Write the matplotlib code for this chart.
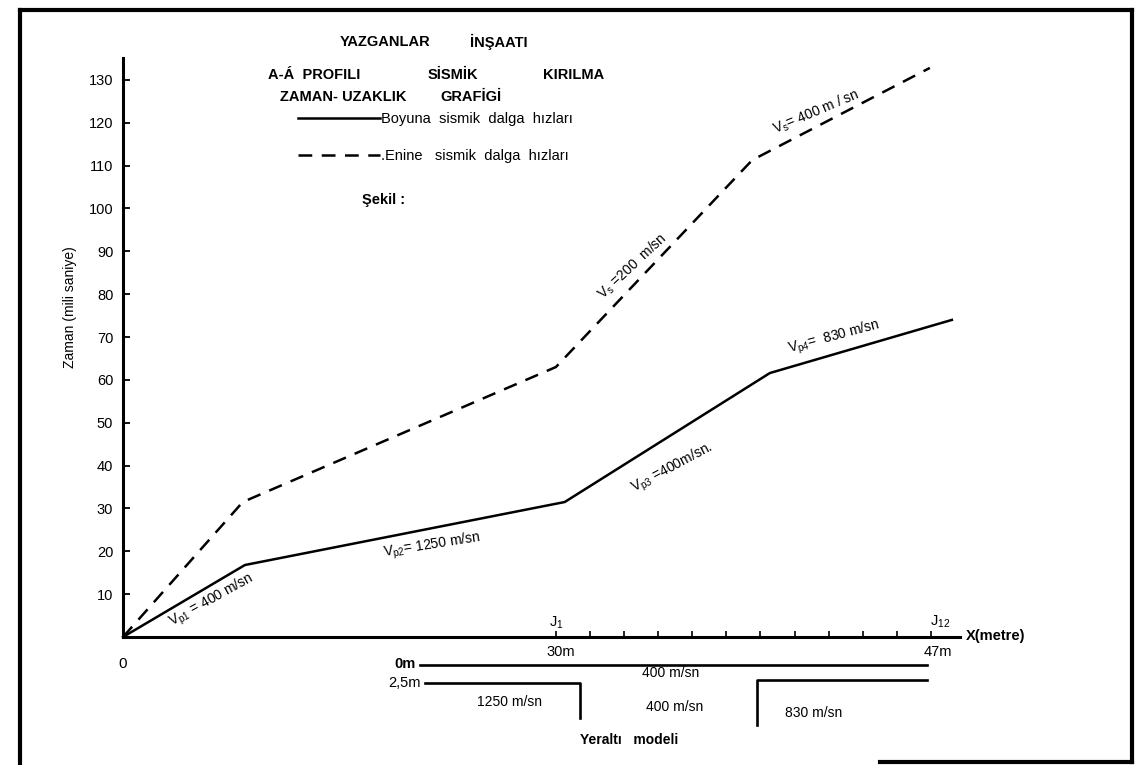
import numpy as np
import matplotlib
matplotlib.use("Agg")
import matplotlib.pyplot as plt
from matplotlib.lines import Line2D

plt.rcParams['font.family'] = ['Liberation Sans', 'DejaVu Sans']
plt.rcParams['mathtext.fontset'] = 'custom'
plt.rcParams['mathtext.rm'] = 'Liberation Sans'
plt.rcParams['mathtext.it'] = 'Liberation Sans'

# ---------------- data ----------------
# distance (m) / time (ms)
p_x = [0.0, 8.45, 30.4, 39.7, 47.95]          # Boyuna (P) dalga
p_t = [0.0, 16.8, 31.5, 61.6, 74.0]
s_x = [0.0, 8.3, 30.0, 38.9, 46.95]           # Enine (S) dalga
s_t = [0.0, 31.5, 63.0, 111.3, 132.8]

y_ticks = [10, 20, 30, 40, 50, 60, 70, 80, 90, 100, 110, 120, 130]
geophone_first, geophone_last, n_geophones = 30.0, 47.0, 12

# underground model (x in m, depth in m)
surface_x = [20.6, 46.8]
surface_d = [0.0, 0.0]
layer_a_x = [20.9, 31.1, 31.1]
layer_a_d = [2.5, 2.5, 7.4]
layer_b_x = [46.8, 39.1, 39.1]
layer_b_d = [2.1, 2.1, 8.3]

# velocity labels: (x, y, text, rotation)
p_labels = [(6.17, 8.6, r"V$_{\mathregular{p1}}$ = 400 m/sn", 29),
            (21.4, 21.2, r"V$_{\mathregular{p2}}$= 1250 m/sn", 9),
            (35.26, 39.4, r"V$_{\mathregular{p3}}$ =400m/sn.", 28),
            (42.6, 70.0, r"V$_{\mathregular{p4}}$=  830 m/sn", 15)]
s_labels = [(33.45, 86.6, r"V$_{\mathregular{s}}$ =200  m/sn", 43),
            (41.8, 122.5, r"V$_{\mathregular{s}}$= 400 m / sn", 23)]

# ---------------- piecewise distance scale (hand drawn axis) ----------------
K1, K2 = 14.43, 22.06


def fwd(m):
    m = np.asarray(m, dtype=float)
    return np.where(m <= 30, m * K1, 30 * K1 + (m - 30) * K2)


def inv(p):
    p = np.asarray(p, dtype=float)
    return np.where(p <= 30 * K1, p / K1, 30 + (p - 30 * K1) / K2)


W, H = 1136, 765
fig = plt.figure(figsize=(W / 100, H / 100), dpi=100)


def fx(px):
    return px / W


def fy(py):
    return 1 - py / H


x_end = 30 + (837 - 30 * K1) / K2
ax = fig.add_axes([fx(123), fy(637), 837 / W, (637 - 58.5) / H])
ax.set_xscale('function', functions=(fwd, inv))
ax.set_xlim(0, x_end)
ax.set_ylim(0, 135)
ax.patch.set_alpha(0)
for s in ['top', 'right']:
    ax.spines[s].set_visible(False)
for s in ['left', 'bottom']:
    ax.spines[s].set_linewidth(2.2)

lw = 1.8
ax.plot(p_x, p_t, color='black', lw=lw, solid_joinstyle='round',
        label="Boyuna  sismik  dalga  hızları", clip_on=False)
ax.plot(s_x, s_t, color='black', lw=lw, ls=(0, (5.5, 3.8)),
        label=".Enine   sismik  dalga  hızları", clip_on=False)

ax.set_yticks(y_ticks)
ax.set_yticklabels([str(v) for v in y_ticks])
ax.tick_params(axis='y', direction='in', length=5, width=1.3, pad=7, labelsize=10.5)
geo = np.linspace(geophone_first, geophone_last, n_geophones)
ax.set_xticks(geo)
ax.xaxis.set_minor_locator(matplotlib.ticker.NullLocator())
ax.set_xticklabels([])
ax.tick_params(axis='x', direction='in', length=4, width=1.2)

ax.set_ylabel("Zaman (mili saniye)", fontsize=10)
ax.yaxis.set_label_coords(-0.055, 0.57)

for x, y, t, r in p_labels + s_labels:
    ax.text(x, y, t, rotation=r, rotation_mode='anchor', ha='center',
            va='center', fontsize=10)

# axis annotations
ax.text(0, -6.2, "0", ha='center', va='center', fontsize=11)
ax.text(30.2, -3.6, "30m", ha='center', va='center', fontsize=10.5)
ax.text(47.3, -3.6, "47m", ha='center', va='center', fontsize=10.5)
ax.text(30.0, 3.4, r"J$_{\mathregular{1}}$", ha='center', va='center', fontsize=10.5)
ax.text(47.4, 3.6, r"J$_{\mathregular{12}}$", ha='center', va='center', fontsize=10.5)
fig.text(fx(966), fy(636), "X(metre)", ha='left', va='center', fontsize=10.5,
         fontweight='bold')

# legend
leg = ax.legend(loc='upper left', bbox_to_anchor=(fx(298), fy(112)),
                bbox_transform=fig.transFigure, frameon=False, fontsize=10.5,
                handlelength=5.6, handletextpad=0.1, labelspacing=1.6,
                borderpad=0, borderaxespad=0)

# titles
tk = dict(fontsize=10.5, fontweight='bold', va='center', ha='left')
fig.text(fx(340), fy(42), "YAZGANLAR", **tk)
fig.text(fx(470), fy(42), "İNŞAATI", **tk)
fig.text(fx(268), fy(75), "A-Á  PROFILI", **tk)
fig.text(fx(428), fy(75), "SİSMİK", **tk)
fig.text(fx(543), fy(75), "KIRILMA", **tk)
fig.text(fx(280), fy(97), "ZAMAN- UZAKLIK", **tk)
fig.text(fx(440), fy(97), "GRAFİGİ", **tk)
fig.text(fx(362), fy(200), "Şekil :", fontsize=10.5, fontweight='bold',
         va='center', ha='left')

# underground model
axm = fig.add_axes([fx(123), fy(760), 837 / W, (760 - 650) / H])
axm.set_xscale('function', functions=(fwd, inv))
axm.set_xlim(0, x_end)
axm.set_ylim(95 / 7.2, -15 / 7.2)
axm.axis('off')
axm.plot(surface_x, surface_d, color='black', lw=1.9)
axm.plot(layer_a_x, layer_a_d, color='black', lw=1.9)
axm.plot(layer_b_x, layer_b_d, color='black', lw=1.9)
mk = dict(ha='center', va='center', fontsize=10)
axm.text(20.3, -0.2, "0m", ha='right', va='center', fontsize=10.5, fontweight='bold')
axm.text(20.6, 2.5, "2,5m", ha='right', va='center', fontsize=10.5)
axm.text(35.2, 1.1, "400 m/sn", **mk)
axm.text(26.8, 5.1, "1250 m/sn", **mk)
axm.text(35.4, 5.8, "400 m/sn", **mk)
axm.text(41.7, 6.7, "830 m/sn", **mk)
axm.text(33.3, 10.4, "Yeraltı   modeli", ha='center', va='center', fontsize=10,
         fontweight='bold')

# frame of the drawing
fk = dict(color='black', lw=3, transform=fig.transFigure)
fig.add_artist(Line2D([fx(20), fx(20)], [fy(10), fy(765)], **fk))
fig.add_artist(Line2D([fx(20), fx(1132)], [fy(10), fy(10)], **fk))
fig.add_artist(Line2D([fx(1132), fx(1132)], [fy(10), fy(762)], **fk))
fig.add_artist(Line2D([fx(880), fx(1132)], [fy(762), fy(762)], **fk))

fig.savefig("out.png", dpi=100)
